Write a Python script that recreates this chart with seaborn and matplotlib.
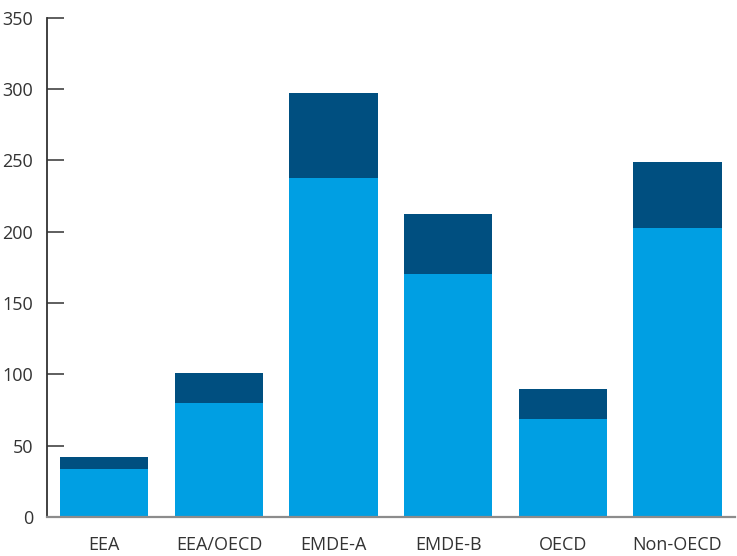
import matplotlib
matplotlib.use("Agg")
import matplotlib.pyplot as plt
import seaborn as sns
import pandas as pd

# values
categories = ["EEA", "EEA/OECD", "EMDE-A", "EMDE-B", "OECD", "Non-OECD"]
base_values = [33.5, 80.0, 237.6, 170.2, 68.5, 202.6]
top_values = [8.4, 20.8, 59.6, 42.1, 21.1, 46.3]
y_ticks = [0, 50, 100, 150, 200, 250, 300, 350]

light_blue = "#009fe3"
dark_blue = "#004f80"

sns.set_style("white")
plt.rcParams["font.family"] = ["Open Sans", "DejaVu Sans"]

df = pd.DataFrame({"category": categories, "base": base_values, "top": top_values})
df["total"] = df["base"] + df["top"]

fig = plt.figure(figsize=(7.37, 5.56), dpi=100)
ax = fig.add_axes([0.0638, 0.0701, 0.9332, 0.898])

# stacked bars: total in dark blue, base in light blue drawn over it
sns.barplot(data=df, x="category", y="total", color=dark_blue, saturation=1,
            width=0.77, ax=ax, edgecolor="none")
sns.barplot(data=df, x="category", y="base", color=light_blue, saturation=1,
            width=0.77, ax=ax, edgecolor="none")

ax.set_xlim(-0.5, 5.5)
ax.set_ylim(0, 350)
ax.set_yticks(y_ticks)
ax.set_xlabel("")
ax.set_ylabel("")

for side in ["top", "right"]:
    ax.spines[side].set_visible(False)
ax.spines["left"].set_color("#333333")
ax.spines["left"].set_linewidth(1.3)
ax.spines["bottom"].set_color("#8c8c8c")
ax.spines["bottom"].set_linewidth(1.6)

ax.tick_params(axis="y", left=True, direction="in", length=12.5, width=1.1,
               color="#333333", pad=10, labelsize=13, labelcolor="#333333")
ax.tick_params(axis="x", bottom=False, length=0, pad=14, labelsize=13,
               labelcolor="#333333")

fig.savefig("out.png", dpi=100)
